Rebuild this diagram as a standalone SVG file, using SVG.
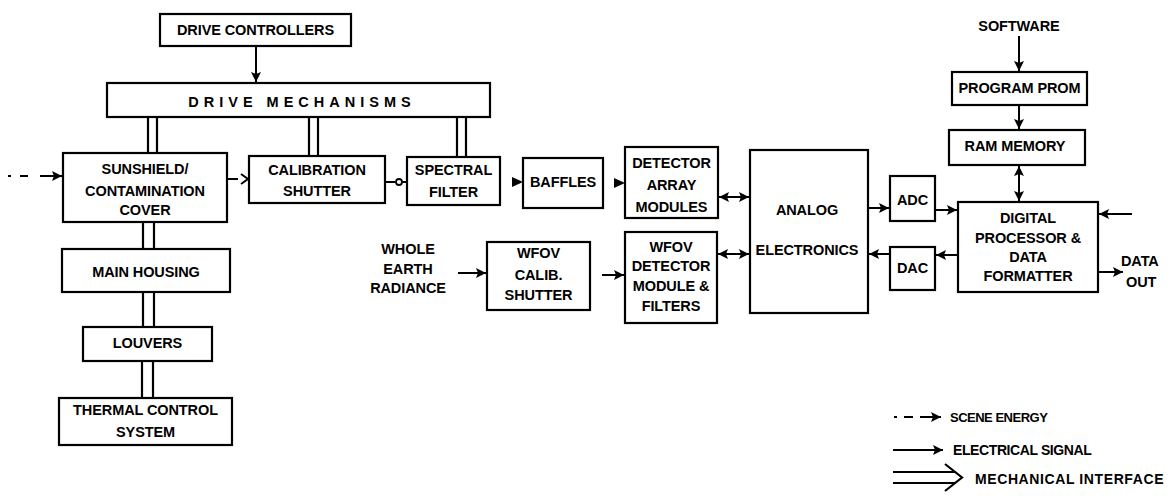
<svg xmlns="http://www.w3.org/2000/svg" width="1171" height="500" viewBox="0 0 1171 500">
<defs>
<marker id="arr" markerUnits="userSpaceOnUse" markerWidth="11" markerHeight="10" refX="10" refY="5" orient="auto-start-reverse"><path d="M0,0 L10,5 L0,10 L2,5 z" fill="#000"/></marker>
<style>
.box{fill:#fff;stroke:#000;stroke-width:2.2}
.t{font-family:"Liberation Sans",Arial,sans-serif;font-weight:bold;font-size:14.5px;text-anchor:middle;fill:#000;letter-spacing:-0.1px}
.lg{font-family:"Liberation Sans",Arial,sans-serif;font-weight:bold;font-size:14px;fill:#000}
.e{stroke:#000;stroke-width:2;fill:none}
.ea{stroke:#000;stroke-width:2;fill:none;marker-end:url(#arr)}
.eb{stroke:#000;stroke-width:2;fill:none;marker-end:url(#arr);marker-start:url(#arr)}
.m{stroke:#000;stroke-width:2.2;fill:none}
</style>
</defs>
<rect width="1171" height="500" fill="#fff"/>

<g id="connectors">
<!-- mechanical -->
<path class="m" d="M148,117V153M157,117V153"/>
<path class="m" d="M309,117V156M318,117V156"/>
<path class="m" d="M457,117V157M466,117V157"/>
<path class="m" d="M143,222V249M154,222V249"/>
<path class="m" d="M143,292V327M154,292V327"/>
<path class="m" d="M142,361V398M153,361V398"/>
<!-- electrical -->
<path class="ea" d="M256,46V82"/>
<path class="ea" d="M1019,36V71"/>
<path class="ea" d="M1019,105V129"/>
<path class="eb" d="M1019,166V201"/>
<path class="ea" d="M868,208H889"/>
<path class="ea" d="M935,210H957"/>
<path class="ea" d="M958,255H936"/>
<path class="ea" d="M890,254H869"/>
<path class="ea" d="M1132,214H1099"/>
<path class="ea" d="M1098,272H1123"/>
<path class="eb" d="M719,197H749"/>
<path class="eb" d="M718,254H749"/>
<path class="ea" d="M602,275H624"/>
<path class="ea" d="M458,273H486"/>
<!-- scene energy -->
<path class="e" d="M8,176H11M20,176H28"/>
<path class="ea" d="M40,176H62"/>
<path class="e" d="M227,179H238"/>
<path class="e" d="M241,174L248,179L241,184"/>
<path class="e" d="M385,182H395"/>
<circle cx="399" cy="182" r="3" fill="#fff" stroke="#000" stroke-width="1.8"/>
<path class="e" d="M402,182H407"/>
<path d="M512,177L523,182L512,187z" fill="#000"/>
<path d="M614,178L625,183L614,188z" fill="#000"/>
</g>

<g id="drive-controllers"><rect class="box" x="160" y="14" width="191" height="32"/><text class="t" x="255.5" y="35">DRIVE CONTROLLERS</text></g>
<g id="drive-mechanisms"><rect class="box" x="107" y="83" width="383" height="34"/><text class="t" x="302" y="107" style="letter-spacing:5px">DRIVE MECHANISMS</text></g>
<g id="sunshield"><rect class="box" x="63" y="153" width="164" height="69"/><text class="t" x="145" y="174">SUNSHIELD/</text><text class="t" x="145" y="196">CONTAMINATION</text><text class="t" x="145" y="215">COVER</text></g>
<g id="calibration-shutter"><rect class="box" x="249" y="156" width="136" height="47"/><text class="t" x="317" y="175">CALIBRATION</text><text class="t" x="317" y="196">SHUTTER</text></g>
<g id="spectral-filter"><rect class="box" x="407" y="157" width="93" height="48"/><text class="t" x="453.5" y="175">SPECTRAL</text><text class="t" x="453.5" y="197">FILTER</text></g>
<g id="baffles"><rect class="box" x="523" y="158" width="80" height="50"/><text class="t" x="563" y="187">BAFFLES</text></g>
<g id="detector-array"><rect class="box" x="625" y="147" width="93" height="71"/><text class="t" x="671.5" y="168">DETECTOR</text><text class="t" x="671.5" y="190">ARRAY</text><text class="t" x="671.5" y="212">MODULES</text></g>
<g id="wfov-calib-shutter"><rect class="box" x="487" y="242" width="103" height="68"/><text class="t" x="538.5" y="258">WFOV</text><text class="t" x="538.5" y="280">CALIB.</text><text class="t" x="538.5" y="300">SHUTTER</text></g>
<g id="wfov-detector"><rect class="box" x="625" y="232" width="92" height="91"/><text class="t" x="671" y="252">WFOV</text><text class="t" x="671" y="271">DETECTOR</text><text class="t" x="671" y="291">MODULE &amp;</text><text class="t" x="671" y="311">FILTERS</text></g>
<g id="analog-electronics"><rect class="box" x="750" y="150" width="118" height="163"/><text class="t" x="807" y="215">ANALOG</text><text class="t" x="807" y="255">ELECTRONICS</text></g>
<g id="adc"><rect class="box" x="890" y="176" width="45" height="45"/><text class="t" x="912.5" y="205">ADC</text></g>
<g id="dac"><rect class="box" x="890" y="247" width="45" height="43"/><text class="t" x="912.5" y="273">DAC</text></g>
<g id="digital-processor"><rect class="box" x="958" y="202" width="140" height="90"/><text class="t" x="1028" y="223">DIGITAL</text><text class="t" x="1028" y="243">PROCESSOR &amp;</text><text class="t" x="1028" y="262">DATA</text><text class="t" x="1028" y="281">FORMATTER</text></g>
<g id="program-prom"><rect class="box" x="952" y="72" width="135" height="33"/><text class="t" x="1019.5" y="93">PROGRAM PROM</text></g>
<g id="ram-memory"><rect class="box" x="949" y="130" width="136" height="35"/><text class="t" x="1015" y="151">RAM MEMORY</text></g>
<g id="main-housing"><rect class="box" x="62" y="249" width="168" height="43"/><text class="t" x="146" y="277">MAIN HOUSING</text></g>
<g id="louvers"><rect class="box" x="83" y="327" width="129" height="34"/><text class="t" x="147.5" y="348">LOUVERS</text></g>
<g id="thermal-control"><rect class="box" x="59" y="398" width="173" height="47"/><text class="t" x="145.5" y="415">THERMAL CONTROL</text><text class="t" x="145.5" y="437">SYSTEM</text></g>

<g id="software"><text class="t" x="1019" y="31">SOFTWARE</text></g>
<g id="whole-earth"><text class="t" x="408" y="254">WHOLE</text><text class="t" x="408" y="274">EARTH</text><text class="t" x="408" y="293">RADIANCE</text></g>
<g id="data-out"><text class="t" x="1121" y="266" style="text-anchor:start">DATA</text><text class="t" x="1126" y="287" style="text-anchor:start">OUT</text></g>

<g id="legend">
<path class="e" d="M894,417H897M904,417H913"/>
<path class="ea" d="M920,417H941"/>
<text class="lg" x="950" y="422" style="font-size:13px;letter-spacing:-0.5px">SCENE ENERGY</text>
<path class="ea" d="M893,450H943"/>
<text class="lg" x="953" y="455" style="letter-spacing:-0.4px">ELECTRICAL SIGNAL</text>
<path class="m" d="M893,472H956M893,483H956"/>
<path class="m" d="M945,464L962,477.5L945,491"/>
<text class="lg" x="975" y="484" style="letter-spacing:0.6px">MECHANICAL INTERFACE</text>
</g>
</svg>
